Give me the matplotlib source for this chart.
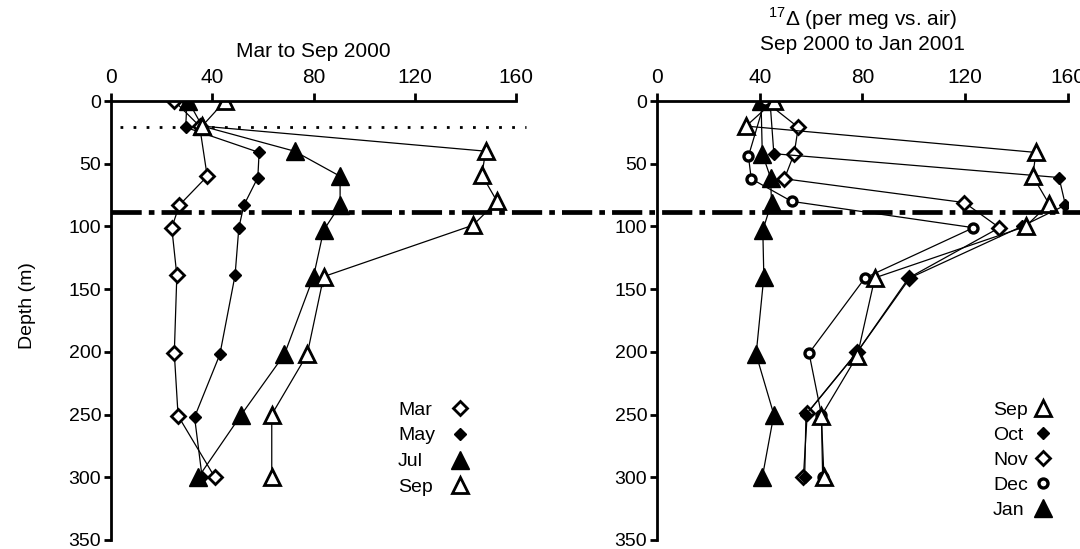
import matplotlib
matplotlib.use("Agg")
import matplotlib.pyplot as plt
from matplotlib.lines import Line2D
from matplotlib.transforms import blended_transform_factory

plt.rcParams["font.family"] = ["Liberation Sans", "DejaVu Sans"]
plt.rcParams["mathtext.fontset"] = "custom"
plt.rcParams["mathtext.rm"] = "Liberation Sans"
plt.rcParams["font.size"] = 14

# ---- Mar to Sep 2000 (depth in m, 17-Delta in per meg) ----
mar_depth = [0, 20, 60, 83, 101, 139, 201, 251, 300]
mar_val = [25, 35, 38, 27, 24, 26, 25, 26.5, 41]
may_depth = [0, 21, 41, 61, 83, 101, 139, 202, 252, 300]
may_val = [30, 29.5, 58.5, 58, 52.5, 50.5, 49, 43, 33, 36]
jul_depth = [0, 20, 40, 60, 83, 103, 140, 202, 250, 300]
jul_val = [30.5, 36, 72.5, 90.5, 90.5, 84, 80, 68.5, 51.5, 34.5]
sep_depth = [0, 20, 40, 59, 80, 99, 140, 202, 250, 300]
sep_val = [45, 36, 148, 146.5, 152.5, 143, 84, 77.5, 63.5, 63.5]

# ---- Sep 2000 to Jan 2001 ----
sep2_depth = [0, 20, 41, 60, 82, 100, 141, 203, 251, 300]
sep2_val = [45.5, 34.7, 147.5, 146.3, 152.6, 143.5, 84.8, 78, 64, 65]
oct_depth = [0, 42, 61, 83, 100, 141, 200, 250, 300]
oct_val = [44, 45.5, 156.5, 159, 142, 98.5, 78, 58, 57.5]
nov_depth = [0, 21, 42, 62, 81, 101, 141, 200, 249, 300]
nov_val = [42, 55, 53.4, 49.6, 119.7, 133.3, 98, 78, 58.5, 57]
dec_depth = [0, 44, 62, 80, 101, 141, 201, 250, 300]
dec_val = [42, 35.6, 36.7, 52.4, 123.2, 81, 59.2, 64, 64.5]
jan_depth = [0, 42, 61, 81, 103, 140, 202, 250, 300]
jan_val = [40.5, 41, 44.2, 44.6, 41.2, 41.6, 38.6, 45.5, 41]

dotted_depth = 20.5
dashdot_depth = 88.5

xticks = [0, 40, 80, 120, 160]
yticks = [0, 50, 100, 150, 200, 250, 300, 350]

left_labels = ["Mar", "May", "Jul", "Sep"]
right_labels = ["Sep", "Oct", "Nov", "Dec", "Jan"]

open_diamond = dict(marker="D", ms=7.5, mfc="white", mec="black", mew=2)
filled_diamond = dict(marker="D", ms=6, mfc="black", mec="black", mew=1)
filled_triangle = dict(marker="^", ms=13, mfc="black", mec="black", mew=1)
open_triangle = dict(marker="^", ms=12, mfc="white", mec="black", mew=2)
open_circle = dict(marker="o", ms=6.5, mfc="white", mec="black", mew=2.4)


def setup_axes(ax):
    ax.set_xlim(0, 160)
    ax.set_ylim(350, 0)
    for side in ["right", "bottom"]:
        ax.spines[side].set_visible(False)
    for side in ["left", "top"]:
        ax.spines[side].set_linewidth(2)
    ax.xaxis.tick_top()
    ax.set_xticks(xticks)
    ax.set_yticks(yticks)
    ax.tick_params(axis="x", direction="out", length=6, width=2, pad=4, labelsize=15)
    ax.tick_params(axis="y", direction="out", length=5, width=2, pad=2, labelsize=14)


def add_key(ax, labels, styles, text_x, marker_x, y0, dy):
    # label on the left, symbol in a column to its right (as in the paper figure)
    for i, (lab, st) in enumerate(zip(labels, styles)):
        y = y0 - i * dy
        ax.text(text_x, y, lab, transform=ax.transAxes, ha="left",
                va="center_baseline", fontsize=14)
        ax.plot([marker_x], [y], transform=ax.transAxes, linestyle="none",
                clip_on=False, **st)


fig = plt.figure(figsize=(10.8, 5.49), dpi=100)
ax1 = fig.add_axes([0.1028, 0.0164, 0.375, 0.7996])
ax2 = fig.add_axes([0.6083, 0.0164, 0.3806, 0.7996])

# left panel
setup_axes(ax1)
ax1.plot(mar_val, mar_depth, color="black", lw=0.9, **open_diamond)
ax1.plot(may_val, may_depth, color="black", lw=0.9, **filled_diamond)
ax1.plot(jul_val, jul_depth, color="black", lw=0.9, **filled_triangle)
ax1.plot(sep_val, sep_depth, color="black", lw=0.9, **open_triangle)
ax1.plot([3.5, 164], [dotted_depth, dotted_depth], color="black", lw=2,
         linestyle=(0, (1, 3.7)), clip_on=False, zorder=1)
ax1.set_title("Mar to Sep 2000", fontsize=15, pad=8)
ax1.set_ylabel("Depth (m)", fontsize=14)
ax1.yaxis.set_label_coords(-0.185, 0.535)
add_key(ax1, left_labels,
        [open_diamond, filled_diamond, filled_triangle, open_triangle],
        0.709, 0.862, 0.300, 0.0585)

# right panel
setup_axes(ax2)
ax2.plot(jan_val, jan_depth, color="black", lw=0.9, **filled_triangle)
ax2.plot(nov_val, nov_depth, color="black", lw=0.9, **open_diamond)
ax2.plot(oct_val, oct_depth, color="black", lw=0.9, **filled_diamond)
ax2.plot(dec_val, dec_depth, color="black", lw=0.9, **open_circle)
ax2.plot(sep2_val, sep2_depth, color="black", lw=0.9, **open_triangle)
ax2.set_title("$^{17}$\u0394 (per meg vs. air)\nSep 2000 to Jan 2001",
              fontsize=15, pad=13)
add_key(ax2, right_labels,
        [open_triangle, filled_diamond, open_diamond, open_circle, filled_triangle],
        0.8175, 0.939, 0.300, 0.057)

# dash-dot line across both panels
trans = blended_transform_factory(fig.transFigure, ax1.transData)
fig.add_artist(Line2D([0.1028, 1.0], [dashdot_depth, dashdot_depth],
                      transform=trans, color="black", lw=3.4,
                      linestyle=(0, (6.4, 1.5, 1.2, 1.5))))

fig.savefig("out.png", dpi=100)
